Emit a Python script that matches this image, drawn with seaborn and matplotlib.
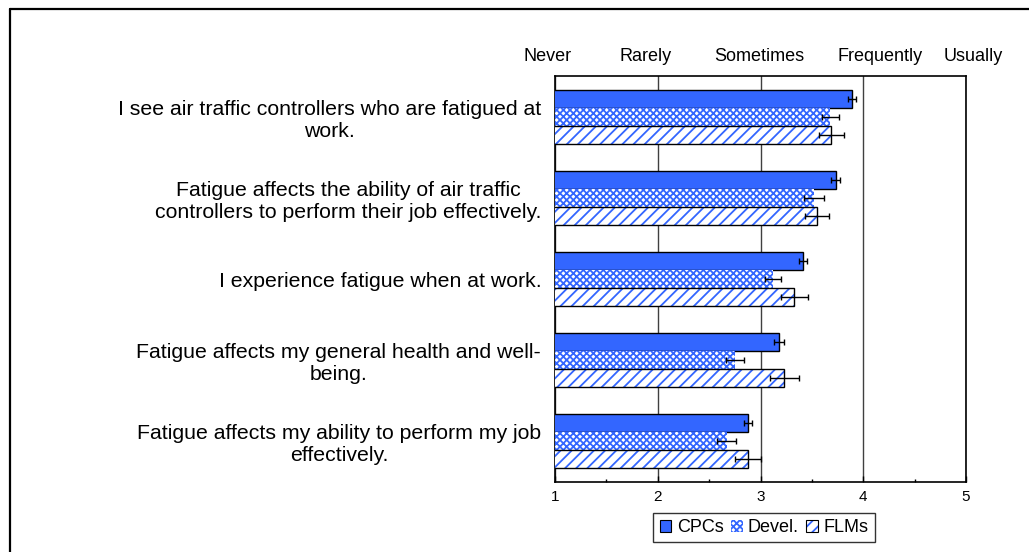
import numpy as np
import pandas as pd
import matplotlib
matplotlib.use("Agg")
import matplotlib.pyplot as plt
from matplotlib.patches import Patch, Rectangle
from matplotlib.lines import Line2D
from matplotlib.transforms import blended_transform_factory
import seaborn as sns

# Survey statements (one row per statement)
statements = [
    "I see air traffic controllers who are fatigued at\nwork.",
    "Fatigue affects the ability of air traffic\ncontrollers to perform their job effectively.",
    "I experience fatigue when at work.",
    "Fatigue affects my general health and well-\nbeing.",
    "Fatigue affects my ability to perform my job\neffectively.",
]
groups = ["CPCs", "Devel.", "FLMs"]

# Mean ratings (1 = Never ... 5 = Usually) and standard errors
cpc_mean = [3.89, 3.73, 3.41, 3.18, 2.88]
devel_mean = [3.68, 3.52, 3.12, 2.75, 2.67]
flm_mean = [3.69, 3.55, 3.33, 3.23, 2.88]
cpc_err = [0.04, 0.04, 0.04, 0.045, 0.04]
devel_err = [0.08, 0.10, 0.08, 0.09, 0.09]
flm_err = [0.12, 0.12, 0.13, 0.14, 0.125]

scale_ticks = [1, 2, 3, 4, 5]
scale_labels = ["Never", "Rarely", "Sometimes", "Frequently", "Usually"]
scale_label_x = [0.93, 1.88, 2.99, 4.16, 5.07]

sns.set_theme(style="white")
plt.rcParams["font.family"] = ["Liberation Sans", "DejaVu Sans"]
plt.rcParams["hatch.linewidth"] = 1.3
for key in ["text.color", "axes.labelcolor", "xtick.color", "ytick.color"]:
    plt.rcParams[key] = "black"

BLUE = "#3366FF"

rows = []
for g, means in zip(groups, [cpc_mean, devel_mean, flm_mean]):
    for s, m in zip(statements, means):
        rows.append((s, g, m))
df = pd.DataFrame(rows, columns=["statement", "group", "mean"])

fig = plt.figure(figsize=(10.29, 5.52), dpi=100)
ax = fig.add_axes([0.5394, 0.1268, 0.3994, 0.7355])

sns.barplot(data=df, x="mean", y="statement", hue="group", order=statements,
            hue_order=groups, orient="h", palette=[BLUE] * 3, saturation=1,
            width=0.665, errorbar=None, legend=False, ax=ax, zorder=3)

errs = [cpc_err, devel_err, flm_err]
bar_containers = list(ax.containers)
for i, cont in enumerate(bar_containers):
    ends, centers = [], []
    for p in cont.patches:
        if i == 0:
            p.set_facecolor(BLUE)
            p.set_edgecolor("black")
            p.set_linewidth(1.0)
        elif i == 1:
            p.set_facecolor("white")
            p.set_edgecolor(BLUE)
            p.set_hatch("xxxxx")
            p.set_linewidth(0)
        else:
            p.set_facecolor("white")
            p.set_edgecolor(BLUE)
            p.set_hatch("///")
            p.set_linewidth(0)
            ax.add_patch(Rectangle((p.get_x(), p.get_y()), p.get_width(), p.get_height(),
                                   fill=False, edgecolor="black", lw=1.0, zorder=4))
        ends.append(p.get_x() + p.get_width())
        centers.append(p.get_y() + p.get_height() / 2)
    ax.errorbar(ends, centers, xerr=errs[i], fmt="none", ecolor="black",
                elinewidth=1.0, capsize=2.5, capthick=1.0, zorder=5)

ax.set_xlim(1, 5)
ax.set_ylim(len(statements) - 0.5, -0.5)
ax.set_xticks(scale_ticks)
ax.set_xticklabels([str(t) for t in scale_ticks])
ax.set_xticks([1.5, 2.5, 3.5, 4.5], minor=True)
ax.tick_params(axis="x", which="major", direction="in", length=4, width=1,
               labelsize=11, pad=6, bottom=True, colors="black")
ax.tick_params(axis="x", which="minor", direction="in", length=2.5, width=1, bottom=True)
ax.set_yticks(range(len(statements)))
ax.set_yticklabels(statements, multialignment="center", fontsize=15.3)
ax.tick_params(axis="y", length=0, pad=10)
ax.set_xlabel("")
ax.set_ylabel("")

ax.xaxis.grid(True, which="major", color="#404040", lw=1, zorder=0)
ax.yaxis.grid(False)
for sp in ax.spines.values():
    sp.set_visible(True)
    sp.set_color("black")
    sp.set_linewidth(1.2)

trans = blended_transform_factory(ax.transData, ax.transAxes)
for x, lab in zip(scale_label_x, scale_labels):
    ax.text(x, 1.049, lab, ha="center", va="center", fontsize=13,
            transform=trans, clip_on=False)

handles = [
    Patch(facecolor=BLUE, edgecolor="black", lw=0.8),
    Patch(facecolor="white", edgecolor=BLUE, hatch="xxxxx", lw=0),
    (Patch(facecolor="white", edgecolor=BLUE, hatch="///", lw=0),
     Patch(facecolor="none", edgecolor="black", lw=0.8)),
]
leg = fig.legend(handles, groups, loc="center", bbox_to_anchor=(0.7425, 0.0444),
                 ncol=3, frameon=True, fancybox=False, edgecolor="black",
                 fontsize=13, handlelength=0.65, handleheight=0.65,
                 handletextpad=0.3, columnspacing=0.4, borderpad=0.35,
                 borderaxespad=0)
leg.get_frame().set_linewidth(1.0)

# outer frame along the top and left edges
fig.add_artist(Line2D([10 / 1029, 1], [1 - 9 / 552, 1 - 9 / 552],
                      transform=fig.transFigure, color="black", lw=1.6))
fig.add_artist(Line2D([10 / 1029, 10 / 1029], [0, 1 - 9 / 552],
                      transform=fig.transFigure, color="black", lw=1.6))

fig.savefig("out.png", dpi=100)
